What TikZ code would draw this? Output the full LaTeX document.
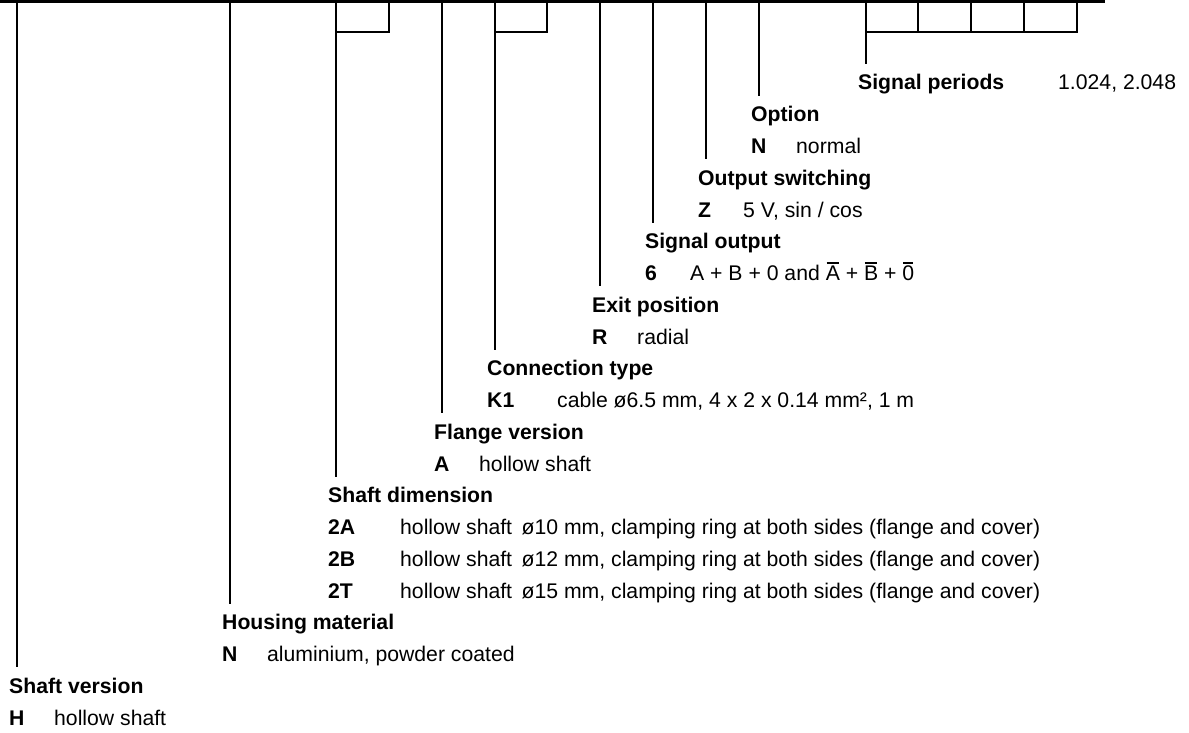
\documentclass[tikz,border=0pt]{standalone}
\usepackage{fontspec}
\setmainfont{Liberation Sans}
\newcommand\myovl[1]{\leavevmode\setbox0\hbox{#1}\rlap{\kern0.06\wd0\raise17pt\hbox{\rule{0.88\wd0}{1.5pt}}}\box0\relax}
\begin{document}
\begin{tikzpicture}[x=1pt,y=-1pt,
  leader/.style={line width=2pt},
  bar/.style={line width=3.4pt},
  head/.style={anchor=base west, inner sep=0pt, font=\bfseries},
  desc/.style={anchor=base west, inner sep=0pt},
  every node/.append style={font=\fontsize{21.2}{25}\selectfont}]
\useasboundingbox (0,0) rectangle (1189,733);
\tikzset{head/.append style={font=\fontsize{21.2}{25}\selectfont\bfseries}}

% top bar
\coordinate (barL) at (0,1.7);
\coordinate (barR) at (1105,1.7);
\draw[bar] (barL) -- (barR);

% boxes
\coordinate (b1a) at (389,0); \coordinate (b1b) at (389,32); \coordinate (b1c) at (336,32);
\draw[leader] (b1a) -- (b1b) -- (b1c);
\coordinate (b2a) at (547,0); \coordinate (b2b) at (547,32); \coordinate (b2c) at (495,32);
\draw[leader] (b2a) -- (b2b) -- (b2c);
\coordinate (b3a) at (1077,0); \coordinate (b3b) at (1077,32); \coordinate (b3c) at (866,32);
\draw[leader] (b3a) -- (b3b) -- (b3c);
\foreach \x [count=\i] in {918,971,1024}{
  \coordinate (d\i t) at (\x,0); \coordinate (d\i b) at (\x,32);
  \draw[leader] (d\i t) -- (d\i b);
}

% rows: baseline = 90 + 31.75 k
% Signal periods (row 0)
\node[head] (sp) at (858,90) {Signal periods};
\node[desc] (spv) at (1058,90) {1.024, 2.048};
% Option (row 1,2)
\node[head] (op) at (751,121.75) {Option};
\node[head] (opc) at (751,153.5) {N};
\node[desc] (opv) at (796,153.5) {normal};
% Output switching (row 3,4)
\node[head] (os) at (698,185.25) {Output switching};
\node[head] (osc) at (698,217) {Z};
\node[desc] (osv) at (743,217) {5 V, sin / cos};
% Signal output (row 5,6)
\node[head] (so) at (645,248.75) {Signal output};
\node[head] (soc) at (645,280.5) {6};
\node[desc] (sov) at (690,280.5) {A + B + 0 and \myovl{A} + \myovl{B} + \myovl{0}};
% Exit position (row 7,8)
\node[head] (ep) at (592,312.25) {Exit position};
\node[head] (epc) at (592,344) {R};
\node[desc] (epv) at (637,344) {radial};
% Connection type (row 9,10)
\node[head] (ct) at (487,375.75) {Connection type};
\node[head] (ctc) at (487,407.5) {K1};
\node[desc] (ctv) at (557,407.5) {cable ø6.5 mm, 4 x 2 x 0.14 mm², 1 m};
% Flange version (row 11,12)
\node[head] (fv) at (434,439.25) {Flange version};
\node[head] (fvc) at (434,471) {A};
\node[desc] (fvv) at (479,471) {hollow shaft};
% Shaft dimension (row 13..16)
\node[head] (sd) at (328,502.75) {Shaft dimension};
\node[head] (sdc1) at (328,534.5) {2A};
\node[desc] (sdv1) at (400,534.5) {hollow shaft\kern0.45em ø10 mm, clamping ring at both sides (flange and cover)};
\node[head] (sdc2) at (328,566.25) {2B};
\node[desc] (sdv2) at (400,566.25) {hollow shaft\kern0.45em ø12 mm, clamping ring at both sides (flange and cover)};
\node[head] (sdc3) at (328,598) {2T};
\node[desc] (sdv3) at (400,598) {hollow shaft\kern0.45em ø15 mm, clamping ring at both sides (flange and cover)};
% Housing material (row 17,18)
\node[head] (hm) at (222,629.75) {Housing material};
\node[head] (hmc) at (222,661.5) {N};
\node[desc] (hmv) at (267,661.5) {aluminium, powder coated};
% Shaft version (row 19,20)
\node[head] (sv) at (9,693.25) {Shaft version};
\node[head] (svc) at (9,725) {H};
\node[desc] (svv) at (54,725) {hollow shaft};

% leader lines: top coordinate and end coordinate above heading
\foreach \x/\n/\e in {17/sv/667, 230/hm/604, 336/sd/477, 442/fv/413, 495/ct/350,
                      600/ep/286, 653/so/223, 706/os/159, 759/op/96, 866/sp/64}{
  \coordinate (\n top) at (\x,0);
  \coordinate (\n end) at (\x,\e);
  \draw[leader] (\n top) -- (\n end);
}
\end{tikzpicture}
\end{document}
